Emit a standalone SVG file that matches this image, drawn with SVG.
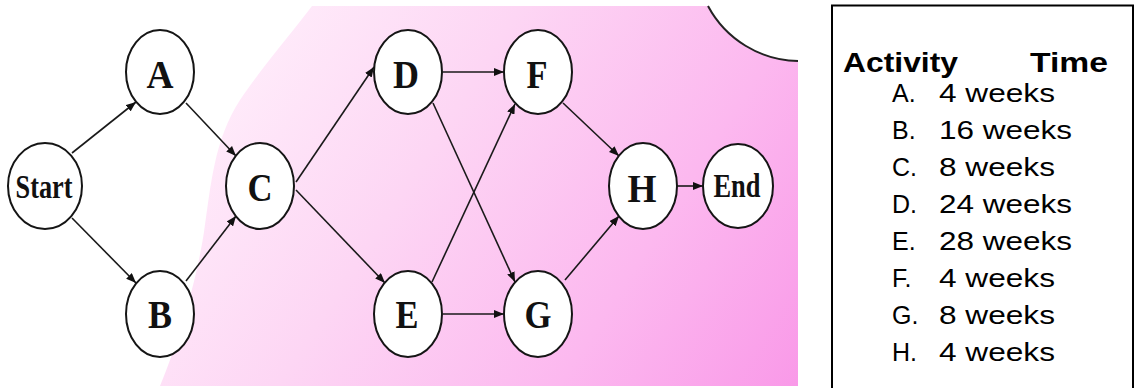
<svg xmlns="http://www.w3.org/2000/svg" width="1134" height="388" viewBox="0 0 1134 388">
  <defs>
    <linearGradient id="bg" gradientUnits="userSpaceOnUse" x1="230" y1="20" x2="800" y2="386">
      <stop offset="0" stop-color="#ffeffb"/>
      <stop offset="0.35" stop-color="#fdd6f4"/>
      <stop offset="0.7" stop-color="#fcb8ef"/>
      <stop offset="1" stop-color="#f999e8"/>
    </linearGradient>
    <marker id="arrow" markerUnits="userSpaceOnUse" markerWidth="10" markerHeight="8" refX="10" refY="4" orient="auto">
      <path d="M0,0 L10,4 L0,8 z" fill="#111"/>
    </marker>
    <style>
      .node ellipse { fill: #fff; stroke: #151515; stroke-width: 2; }
      .node text { font-family: "Liberation Serif", "Times New Roman", serif; font-weight: bold; fill: #111; text-anchor: middle; }
      .big { font-size: 41px; }
      .small { font-size: 34px; }
      .edges line { stroke: #1a1a1a; stroke-width: 1.6; marker-end: url(#arrow); }
      .table text { font-family: "Liberation Sans", Arial, sans-serif; fill: #000; }
      .head { font-size: 27px; font-weight: bold; }
      .row { font-size: 25px; }
    </style>
  </defs>

  <rect width="1134" height="388" fill="#fff"/>

  <!-- shaded backdrop behind the network -->
  <path d="M312,6 L708,6 A104,104 0 0 0 798,61 L798,386 L160,386 C175,350 195,290 204,232 C211,185 214,140 240,100 C260,70 290,35 312,6 Z" fill="url(#bg)"/>
  <path d="M708,6 A104,104 0 0 0 798,61" fill="none" stroke="#222" stroke-width="2"/>

  <!-- connectors -->
  <g id="edges" class="edges">
    <line x1="72" y1="153" x2="136" y2="102"/>
    <line x1="72" y1="218" x2="136" y2="283"/>
    <line x1="186" y1="103" x2="236" y2="156"/>
    <line x1="186" y1="281" x2="236" y2="216"/>
    <line x1="296" y1="182" x2="374" y2="67"/>
    <line x1="296" y1="190" x2="385" y2="283"/>
    <line x1="443" y1="72" x2="504" y2="72"/>
    <line x1="433" y1="103" x2="515" y2="282"/>
    <line x1="432" y1="282" x2="515" y2="104"/>
    <line x1="443" y1="314" x2="504" y2="314"/>
    <line x1="563" y1="103" x2="619" y2="156"/>
    <line x1="565" y1="280" x2="619" y2="216"/>
    <line x1="677" y1="186" x2="703" y2="186"/>
  </g>

  <!-- activity nodes -->
  <g id="node-start" class="node">
    <ellipse cx="45" cy="186" rx="37" ry="43"/>
    <text class="small" x="44" y="198" textLength="57" lengthAdjust="spacingAndGlyphs">Start</text>
  </g>
  <g id="node-a" class="node">
    <ellipse cx="160" cy="72" rx="34" ry="42"/>
    <text class="big" x="160" y="88" textLength="27" lengthAdjust="spacingAndGlyphs">A</text>
  </g>
  <g id="node-b" class="node">
    <ellipse cx="160" cy="314" rx="34" ry="43"/>
    <text class="big" x="160" y="328" textLength="24" lengthAdjust="spacingAndGlyphs">B</text>
  </g>
  <g id="node-c" class="node">
    <ellipse cx="260" cy="186" rx="34" ry="43"/>
    <text class="big" x="260" y="201" textLength="25" lengthAdjust="spacingAndGlyphs">C</text>
  </g>
  <g id="node-d" class="node">
    <ellipse cx="408" cy="72" rx="34" ry="42"/>
    <text class="big" x="406" y="88" textLength="26" lengthAdjust="spacingAndGlyphs">D</text>
  </g>
  <g id="node-e" class="node">
    <ellipse cx="408" cy="314" rx="34" ry="43"/>
    <text class="big" x="407" y="328" textLength="23" lengthAdjust="spacingAndGlyphs">E</text>
  </g>
  <g id="node-f" class="node">
    <ellipse cx="538" cy="72" rx="34" ry="42"/>
    <text class="big" x="537" y="88" textLength="21" lengthAdjust="spacingAndGlyphs">F</text>
  </g>
  <g id="node-g" class="node">
    <ellipse cx="538" cy="314" rx="34" ry="43"/>
    <text class="big" x="538" y="328" textLength="27" lengthAdjust="spacingAndGlyphs">G</text>
  </g>
  <g id="node-h" class="node">
    <ellipse cx="643" cy="186" rx="34" ry="43"/>
    <text class="big" x="642" y="202" textLength="29" lengthAdjust="spacingAndGlyphs">H</text>
  </g>
  <g id="node-end" class="node">
    <ellipse cx="738" cy="186" rx="35" ry="42"/>
    <text class="small" x="737" y="197" textLength="47" lengthAdjust="spacingAndGlyphs">End</text>
  </g>

  <!-- activity duration table -->
  <g id="table" class="table">
    <path d="M832,389 L832,5.5 L1133,5.5 L1133,389" fill="none" stroke="#000" stroke-width="2"/>
    <text class="head" x="843" y="72" textLength="115" lengthAdjust="spacingAndGlyphs">Activity</text>
    <text class="head" x="1030" y="72" textLength="78" lengthAdjust="spacingAndGlyphs">Time</text>
    <text class="row" x="892" y="102">A.</text><text class="row" x="939" y="102" textLength="116" lengthAdjust="spacingAndGlyphs">4 weeks</text>
    <text class="row" x="892" y="139">B.</text><text class="row" x="939" y="139" textLength="133" lengthAdjust="spacingAndGlyphs">16 weeks</text>
    <text class="row" x="892" y="176">C.</text><text class="row" x="939" y="176" textLength="116" lengthAdjust="spacingAndGlyphs">8 weeks</text>
    <text class="row" x="892" y="213">D.</text><text class="row" x="939" y="213" textLength="133" lengthAdjust="spacingAndGlyphs">24 weeks</text>
    <text class="row" x="892" y="250">E.</text><text class="row" x="939" y="250" textLength="133" lengthAdjust="spacingAndGlyphs">28 weeks</text>
    <text class="row" x="892" y="287">F.</text><text class="row" x="939" y="287" textLength="116" lengthAdjust="spacingAndGlyphs">4 weeks</text>
    <text class="row" x="892" y="324">G.</text><text class="row" x="939" y="324" textLength="116" lengthAdjust="spacingAndGlyphs">8 weeks</text>
    <text class="row" x="892" y="361">H.</text><text class="row" x="939" y="361" textLength="116" lengthAdjust="spacingAndGlyphs">4 weeks</text>
  </g>
</svg>
